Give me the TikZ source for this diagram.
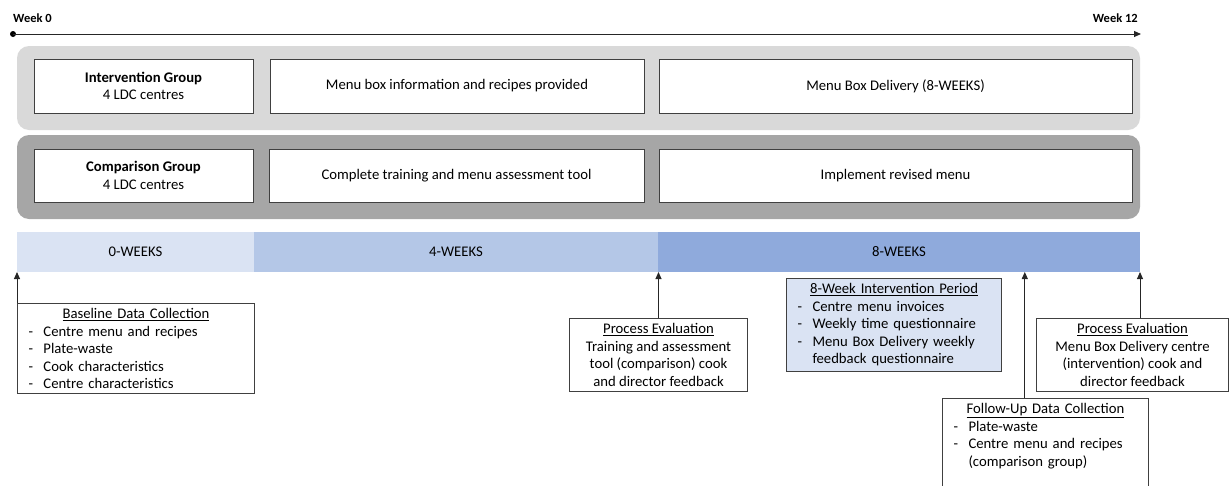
\documentclass[tikz,border=0pt]{standalone}
\usepackage{fontspec}
\setmainfont{Carlito}
\usetikzlibrary{arrows.meta, positioning, calc}

\definecolor{bandlight}{HTML}{D9D9D9}
\definecolor{banddark}{HTML}{A6A6A6}
\definecolor{phaseA}{HTML}{DAE3F3}
\definecolor{phaseB}{HTML}{B4C7E7}
\definecolor{phaseC}{HTML}{8FAADC}
\definecolor{edge}{HTML}{404040}

% headings and list lines inside the data boxes
\newcommand{\boxhead}[1]{\makebox[\linewidth]{\underline{#1}}\\}
\newcommand{\dashitem}[1]{\makebox[15pt][l]{-}#1}

\tikzset{
    band/.style={rectangle, rounded corners=12pt, minimum width=1123pt, minimum height=84pt, inner sep=0pt},
    gbox/.style={rectangle, draw=edge, line width=1pt, fill=white, minimum height=54pt, align=center, inner sep=2pt},
    phase/.style={rectangle, minimum height=40pt, inner sep=0pt, outer sep=0pt},
    listbox/.style={rectangle, draw=edge, line width=1pt, fill=white, align=left, inner xsep=11pt, inner ysep=5pt},
    evalbox/.style={rectangle, draw=edge, line width=1pt, fill=white, align=center, inner ysep=5pt},
    week/.style={font={\fontsize{12.5}{14}\selectfont\bfseries}, inner sep=0pt},
    arrow/.style={line width=1pt, draw=black!85, -{Triangle[length=7pt,width=6pt]}}
}

\begin{document}
\begin{tikzpicture}[x=1pt, y=-1pt, font={\fontsize{14.7}{17.5}\selectfont}]
    \useasboundingbox (0,0) rectangle (1229,485);
    \clip (0,0) rectangle (1229,485);

    % timeline
    \node[week, anchor=south west] (w0) at (13,23) {Week 0};
    \node[week, anchor=south east] (w12) at (1138,23) {Week 12};
    \coordinate (t0) at (13,34);
    \coordinate (t12) at (1141,34);
    \fill[black] (t0) circle (3pt);
    \draw[arrow] (t0) -- (t12);

    % group bands
    \node[band, fill=bandlight] (ib) at (578.5,88) {};
    \node[band, fill=banddark] (cb) at (578.5,177) {};

    \node[gbox, minimum width=219pt] (ig) at (143.5,86) {\textbf{Intervention Group}\\4 LDC centres};
    \node[gbox, minimum width=374pt, right=16pt of ig] (mb) {Menu box information and recipes provided};
    \node[gbox, minimum width=473pt, right=14pt of mb] (md) {Menu Box Delivery (8-WEEKS)};

    \node[gbox, minimum width=219pt, minimum height=53pt] (cg) at (143.5,175.5) {\textbf{Comparison Group}\\4 LDC centres};
    \node[gbox, minimum width=375pt, minimum height=53pt, right=15pt of cg] (ct) {Complete training and menu assessment tool};
    \node[gbox, minimum width=473pt, minimum height=53pt, right=14pt of ct] (rm) {Implement revised menu};

    % phase bar
    \node[phase, fill=phaseA, minimum width=237pt, anchor=north west] (p0) at (17,232) {0-WEEKS};
    \node[phase, fill=phaseB, minimum width=404pt, right=0pt of p0] (p4) {4-WEEKS};
    \node[phase, fill=phaseC, minimum width=482pt, right=0pt of p4] (p8) {8-WEEKS};

    % data collection and evaluation
    \node[listbox, text width=215pt, anchor=north west] (base) at (17,303) {\boxhead{Baseline Data Collection}\dashitem{Centre menu and recipes}\\\dashitem{Plate-waste}\\\dashitem{Cook characteristics}\\\dashitem{Centre characteristics}};
    \node[evalbox, minimum width=178pt, anchor=north west] (pe1) at (569,318) {\underline{Process Evaluation}\\Training and assessment\\tool (comparison) cook\\and director feedback};
    \node[listbox, fill=phaseA, text width=193pt, anchor=north west] (iv) at (786,278) {\boxhead{8-Week Intervention Period}\dashitem{Centre menu invoices}\\\dashitem{Weekly time questionnaire}\\\dashitem{Menu Box Delivery weekly}\\\hspace*{15pt}feedback questionnaire};
    \node[evalbox, minimum width=192pt, anchor=north west] (pe2) at (1036,318) {\underline{Process Evaluation}\\Menu Box Delivery centre\\(intervention) cook and\\director feedback};
    \node[listbox, text width=184pt, anchor=north west] (fu) at (942,398) {\boxhead{Follow-Up Data Collection}\dashitem{Plate-waste}\\\dashitem{Centre menu and recipes}\\\hspace*{15pt}(comparison group)\\\mbox{}};

    \draw[arrow] (base.north west) -- (p0.south west);
    \draw[arrow] (pe1.north) -- (pe1.north |- p8.south);
    \coordinate (fuTop) at ($(fu.north west)!0.4!(fu.north east)$);
    \draw[arrow] (fuTop) -- (fuTop |- p8.south);
    \draw[arrow] (pe2.north -| p8.south east) -- (p8.south east);
\end{tikzpicture}
\end{document}
